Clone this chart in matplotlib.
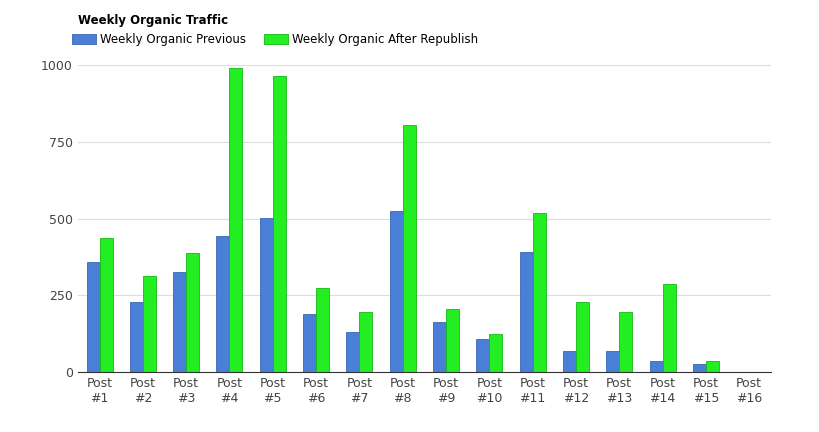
import matplotlib
matplotlib.use("Agg")
import matplotlib.pyplot as plt
import numpy as np

categories = [f"Post\n#{i}" for i in range(1, 17)]
previous = [358, 228, 325, 443, 502, 189, 130, 524, 163, 107, 391, 68, 68, 36, 26, 0]
after = [436, 313, 388, 990, 964, 274, 196, 804, 205, 124, 518, 228, 196, 287, 36, 0]
yticks = [0, 250, 500, 750, 1000]

fig = plt.figure(figsize=(8.2, 4.32), dpi=100)
ax = fig.add_axes([0.095, 0.138, 0.845, 0.712])
x = np.arange(len(categories))
w = 0.3
ax.bar(x - w/2, previous, w, color="#4a7fd8", edgecolor="#3a66b0", linewidth=0.6, label="Weekly Organic Previous")
ax.bar(x + w/2, after, w, color="#22ee22", edgecolor="#16b816", linewidth=0.6, label="Weekly Organic After Republish")
ax.set_xlim(-0.5, len(categories) - 0.5)
ax.set_ylim(0, 1000)
ax.set_yticks(yticks)
ax.set_yticklabels([str(v) for v in yticks], fontsize=9, color="#444")
ax.set_xticks(x)
ax.set_xticklabels(categories, fontsize=9, color="#444")
ax.tick_params(length=0)
ax.grid(axis="y", color="#dddddd", linewidth=0.8)
ax.set_axisbelow(True)
for s in ["top", "right", "left"]:
    ax.spines[s].set_visible(False)
ax.spines["bottom"].set_color("#333")
fig.text(0.095, 0.953, "Weekly Organic Traffic", fontsize=8.5, fontweight="bold", va="center")
fig.legend(loc="center left", bbox_to_anchor=(0.082, 0.908), ncol=2, frameon=False, fontsize=8.5,
           handlelength=2.0, handleheight=0.9, handletextpad=0.4, columnspacing=1.5, borderaxespad=0)
fig.savefig("out.png", dpi=100)
